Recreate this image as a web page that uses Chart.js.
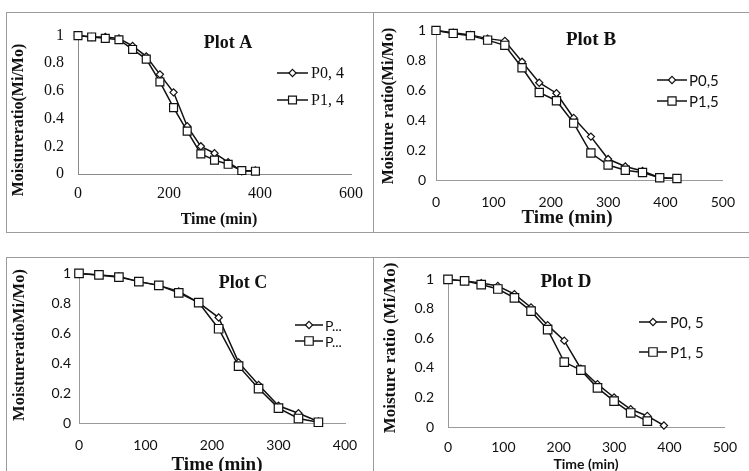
<!DOCTYPE html>
<html>
<head>
<meta charset="utf-8">
<script src="https://cdn.jsdelivr.net/npm/chart.js@4.4.1/dist/chart.umd.min.js"></script>
<style>
  html, body { margin:0; padding:0; background:#fff; width:749px; height:471px; overflow:hidden; }
  .frame { position:absolute; border:1px solid #9c9c9c; box-sizing:border-box; }
  canvas { position:absolute; }
</style>
</head>
<body>
<div class="frame" style="left:6px;top:12px;width:368px;height:221px;"></div>
<div class="frame" style="left:373px;top:12px;width:390px;height:221px;"></div>
<div class="frame" style="left:6px;top:257px;width:368px;height:240px;"></div>
<div class="frame" style="left:373px;top:257px;width:390px;height:240px;"></div>
<canvas id="cA" width="367" height="220" style="left:6px;top:12px;"></canvas>
<canvas id="cB" width="376" height="220" style="left:373px;top:12px;"></canvas>
<canvas id="cC" width="367" height="214" style="left:6px;top:257px;"></canvas>
<canvas id="cD" width="376" height="214" style="left:373px;top:257px;"></canvas>
<script>
// ---------- DATA ----------
const yTicks = [0, 0.2, 0.4, 0.6, 0.8, 1];

const timeA = [0, 30, 60, 90, 120, 150, 180, 210, 240, 270, 300, 330, 360, 390];
const p0A = [1.0, 0.99, 0.99, 0.98, 0.925, 0.85, 0.72, 0.59, 0.345, 0.20, 0.15, 0.085, 0.02, 0.025];
const p1A = [1.0, 0.99, 0.98, 0.97, 0.90, 0.83, 0.665, 0.48, 0.31, 0.145, 0.10, 0.07, 0.025, 0.02];
const xTicksA = [0, 200, 400, 600];

const timeB = [0, 30, 60, 90, 120, 150, 180, 210, 240, 270, 300, 330, 360, 390, 420];
const p0B = [1.0, 0.985, 0.97, 0.945, 0.93, 0.79, 0.65, 0.58, 0.415, 0.29, 0.14, 0.09, 0.06, 0.015, 0.01];
const p1B = [1.0, 0.98, 0.965, 0.935, 0.90, 0.75, 0.585, 0.53, 0.38, 0.18, 0.10, 0.065, 0.05, 0.015, 0.01];
const xTicksB = [0, 100, 200, 300, 400, 500];

const timeC = [0, 30, 60, 90, 120, 150, 180, 210, 240, 270, 300, 330, 360];
const p0C = [1.0, 0.99, 0.98, 0.945, 0.92, 0.88, 0.805, 0.705, 0.405, 0.255, 0.115, 0.065, 0.01];
const p1C = [1.0, 0.99, 0.975, 0.945, 0.92, 0.87, 0.805, 0.63, 0.38, 0.23, 0.10, 0.03, 0.005];
const xTicksC = [0, 100, 200, 300, 400];

const timeD0 = [0, 30, 60, 90, 120, 150, 180, 210, 240, 270, 300, 330, 360, 390];
const p0D = [1.0, 0.99, 0.975, 0.955, 0.90, 0.81, 0.69, 0.585, 0.395, 0.29, 0.20, 0.12, 0.075, 0.01];
const timeD1 = [0, 30, 60, 90, 120, 150, 180, 210, 240, 270, 300, 330, 360];
const p1D = [1.0, 0.99, 0.965, 0.935, 0.875, 0.785, 0.66, 0.44, 0.385, 0.265, 0.175, 0.095, 0.04];
const xTicksD = [0, 100, 200, 300, 400, 500];

const labelsA = ["P0, 4", "P1, 4"];
const labelsB = ["P0,5", "P1,5"];
const labelsC = ["P...", "P..."];
const labelsD = ["P0, 5", "P1, 5"];

// ---------- HELPERS ----------
const SERIF = "'Liberation Serif', 'Times New Roman', serif";
const SANS = "Lato, 'Liberation Sans', sans-serif";

function pts(xs, ys) { return xs.map((x, i) => ({ x: x, y: ys[i] })); }
function fmt(v) { return String(Math.round(v * 10) / 10); }

function marker(ctx, style, x, y, r) {
  ctx.save();
  ctx.fillStyle = '#fff';
  ctx.strokeStyle = '#111';
  ctx.lineWidth = 1.2;
  ctx.beginPath();
  if (style === 'rect') {
    const s = r * Math.SQRT1_2;
    ctx.rect(x - s, y - s, 2 * s, 2 * s);
  } else {
    ctx.moveTo(x, y - r); ctx.lineTo(x + r, y); ctx.lineTo(x, y + r); ctx.lineTo(x - r, y); ctx.closePath();
  }
  ctx.fill(); ctx.stroke();
  ctx.restore();
}

function makeChart(id, frame, area, cfg) {
  const annot = {
    id: 'annot_' + id,
    afterDraw(chart) {
      const ctx = chart.ctx;
      const ox = frame.x, oy = frame.y;
      ctx.save();
      ctx.fillStyle = '#111';
      ctx.textAlign = 'center';
      ctx.textBaseline = 'middle';
      ctx.font = cfg.titleFont;
      ctx.fillText(cfg.title, cfg.titlePos[0] - ox, cfg.titlePos[1] - oy);
      ctx.font = cfg.xTitleFont;
      ctx.fillText('Time (min)', cfg.xTitlePos[0] - ox, cfg.xTitlePos[1] - oy);
      ctx.save();
      ctx.translate(cfg.yTitlePos[0] - ox, cfg.yTitlePos[1] - oy);
      ctx.rotate(-Math.PI / 2);
      ctx.font = cfg.yTitleFont;
      ctx.fillText(cfg.yTitle, 0, 0);
      ctx.restore();
      const L = cfg.legend;
      const styles = ['rectRot', 'rect'];
      const radii = [cfg.dRadius, cfg.sRadius];
      for (let i = 0; i < 2; i++) {
        const y = L.ys[i] - oy;
        ctx.strokeStyle = '#111';
        ctx.lineWidth = 1.5;
        ctx.beginPath();
        ctx.moveTo(L.x0 - ox, y); ctx.lineTo(L.x1 - ox, y); ctx.stroke();
        marker(ctx, styles[i], (L.x0 + L.x1) / 2 - ox, y, radii[i]);
        ctx.fillStyle = '#111';
        ctx.font = L.font;
        ctx.textAlign = 'left';
        ctx.fillText(cfg.labels[i], L.tx - ox, y + 1);
      }
      ctx.restore();
    }
  };

  const yAxisW = area.left - frame.x;
  const xAxisH = frame.y + frame.h - area.bottom;
  return new Chart(document.getElementById(id), {
    type: 'line',
    data: {
      datasets: [
        { label: cfg.labels[1], data: cfg.s1, borderColor: '#111', borderWidth: 1.5,
          pointStyle: 'rect', pointRadius: cfg.sRadius, pointBackgroundColor: '#fff',
          pointBorderColor: '#111', pointBorderWidth: 1.2, tension: 0, fill: false, clip: false, order: 0 },
        { label: cfg.labels[0], data: cfg.s0, borderColor: '#111', borderWidth: 1.5,
          pointStyle: 'rectRot', pointRadius: cfg.dRadius, pointBackgroundColor: '#fff',
          pointBorderColor: '#111', pointBorderWidth: 1.2, tension: 0, fill: false, clip: false, order: 1 }
      ]
    },
    options: {
      responsive: false,
      animation: false,
      devicePixelRatio: 1,
      layout: { padding: { left: 0, top: area.top - frame.y, right: frame.x + frame.w - area.right, bottom: 0 } },
      plugins: { legend: { display: false }, tooltip: { enabled: false }, title: { display: false } },
      scales: {
        x: {
          type: 'linear', min: 0, max: cfg.xTicks[cfg.xTicks.length - 1],
          afterBuildTicks: s => { s.ticks = cfg.xTicks.map(v => ({ value: v })); },
          afterFit: s => { s.height = xAxisH; },
          grid: { display: false, drawTicks: false, tickLength: 0 },
          border: { display: true, color: cfg.axisColor, width: 1 },
          ticks: { color: '#111', font: cfg.tickFont, padding: cfg.xTickPad, maxRotation: 0, autoSkip: false,
                   callback: v => String(v) }
        },
        y: {
          type: 'linear', min: 0, max: 1,
          afterBuildTicks: s => { s.ticks = yTicks.map(v => ({ value: v })); },
          afterFit: s => { s.width = yAxisW; },
          grid: { display: false, drawTicks: false, tickLength: 0 },
          border: { display: true, color: cfg.axisColor, width: 1 },
          ticks: { color: '#111', font: cfg.tickFont, padding: cfg.yTickPad, autoSkip: false,
                   callback: v => fmt(v) }
        }
      }
    },
    plugins: [annot]
  });
}

// ---------- CHARTS ----------
makeChart('cA', { x: 6, y: 12, w: 367, h: 220 }, { left: 78, right: 352, top: 22, bottom: 174 }, {
  s0: pts(timeA, p0A), s1: pts(timeA, p1A), labels: labelsA, xTicks: xTicksA,
  title: 'Plot A', titleFont: "bold 18px " + SERIF, titlePos: [228, 43],
  xTitleFont: "bold 16px " + SERIF, xTitlePos: [219, 220],
  yTitle: 'Moistureratio(Mi/Mo)', yTitleFont: "bold 16px " + SERIF, yTitlePos: [19, 120],
  legend: { x0: 277, x1: 308, ys: [73, 100], tx: 311, font: "16px " + SERIF },
  tickFont: { family: SERIF, size: 16 }, xTickPad: 10, yTickPad: 14,
  axisColor: '#8a8a8a', dRadius: 3.6, sRadius: 5.6
});

makeChart('cB', { x: 373, y: 12, w: 376, h: 220 }, { left: 436, right: 733, top: 22, bottom: 180 }, {
  s0: pts(timeB, p0B), s1: pts(timeB, p1B), labels: labelsB, xTicks: xTicksB,
  title: 'Plot B', titleFont: "bold 19px " + SERIF, titlePos: [591, 40],
  xTitleFont: "bold 19px " + SERIF, xTitlePos: [567, 218],
  yTitle: 'Moisture ratio(Mi/Mo)', yTitleFont: "bold 16px " + SERIF, yTitlePos: [389, 106],
  legend: { x0: 657, x1: 687, ys: [80, 101], tx: 689, font: "15px " + SANS },
  tickFont: { family: SANS, size: 14 }, xTickPad: 14, yTickPad: 10,
  axisColor: '#9a9a9a', dRadius: 3.6, sRadius: 5.8
});

makeChart('cC', { x: 6, y: 257, w: 367, h: 214 }, { left: 79, right: 345, top: 267, bottom: 423 }, {
  s0: pts(timeC, p0C), s1: pts(timeC, p1C), labels: labelsC, xTicks: xTicksC,
  title: 'Plot C', titleFont: "bold 18px " + SERIF, titlePos: [243, 283],
  xTitleFont: "bold 19px " + SERIF, xTitlePos: [217, 465],
  yTitle: 'MoistureratioMi/Mo)', yTitleFont: "bold 16.5px " + SERIF, yTitlePos: [20, 345],
  legend: { x0: 295, x1: 323, ys: [325, 341], tx: 325, font: "14px " + SANS },
  tickFont: { family: SANS, size: 14 }, xTickPad: 14, yTickPad: 8,
  axisColor: '#9a9a9a', dRadius: 3.6, sRadius: 6
});

makeChart('cD', { x: 373, y: 257, w: 376, h: 214 }, { left: 448, right: 732, top: 267, bottom: 427 }, {
  s0: pts(timeD0, p0D), s1: pts(timeD1, p1D), labels: labelsD, xTicks: xTicksD,
  title: 'Plot D', titleFont: "bold 19px " + SERIF, titlePos: [566, 282],
  xTitleFont: "bold 14px " + SANS, xTitlePos: [586, 464],
  yTitle: 'Moisture ratio (Mi/Mo)', yTitleFont: "bold 17px " + SERIF, yTitlePos: [391, 348],
  legend: { x0: 639, x1: 667, ys: [322, 352], tx: 670, font: "15px " + SANS },
  tickFont: { family: SANS, size: 14 }, xTickPad: 12, yTickPad: 14,
  axisColor: '#9a9a9a', dRadius: 3.6, sRadius: 6
});
</script>
</body>
</html>
